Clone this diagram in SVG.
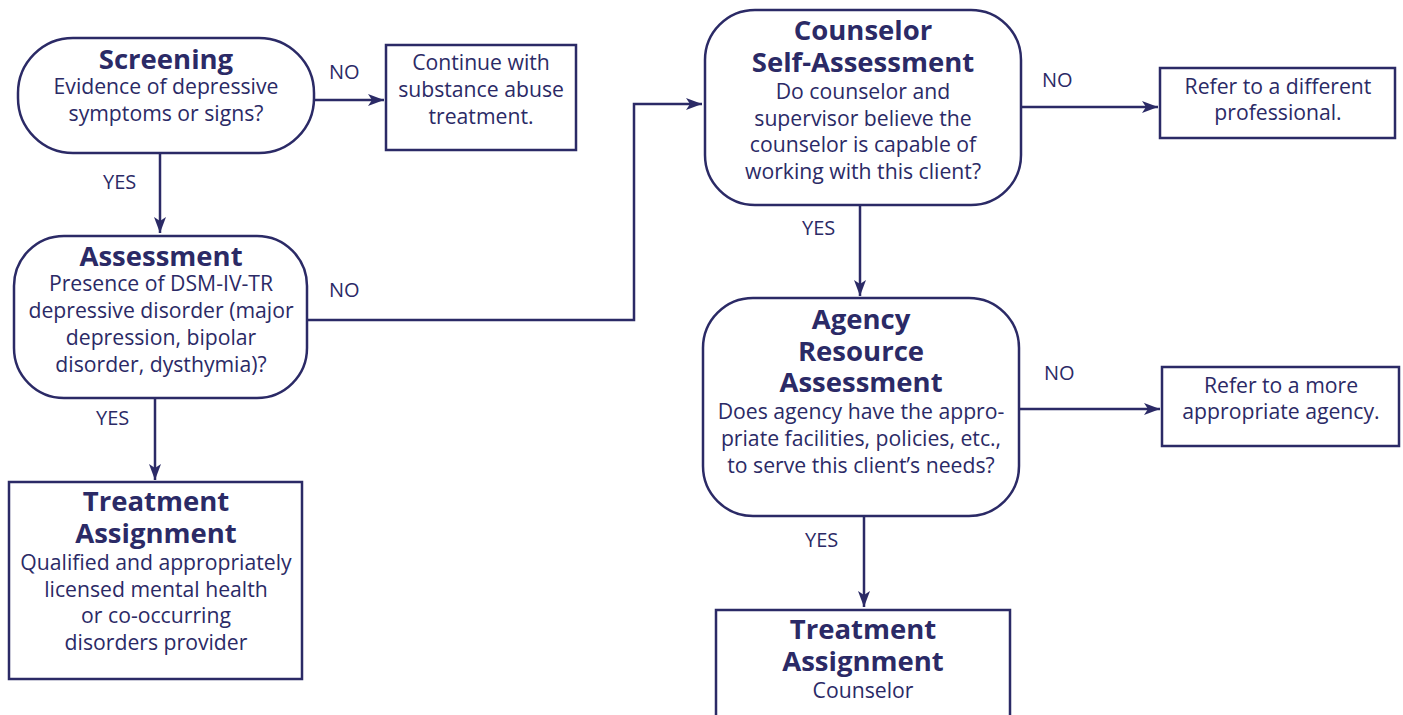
<svg xmlns="http://www.w3.org/2000/svg" width="1403" height="715" viewBox="0 0 1403 715">
<style>
.box{fill:#fff;stroke:#2b2a66;stroke-width:2.5}
.ln{fill:none;stroke:#2b2a66;stroke-width:2.5}
text{font-family:"Open Sans","Noto Sans","Liberation Sans",sans-serif;fill:#2b2a66;text-anchor:middle}
.t{font-size:27.5px;font-weight:700}
.b{font-size:21.2px}
.l{font-size:20px;text-anchor:start}
</style>
<defs>
<marker id="ah" markerUnits="userSpaceOnUse" markerWidth="18" markerHeight="14" refX="16" refY="7" orient="auto">
<path d="M0,1 L16,7 L0,13 L4,7 Z" fill="#2b2a66"/>
</marker>
</defs>
<rect width="1403" height="715" fill="#fff"/>
<g id="connectors">
<line class="ln" x1="314" y1="100" x2="384" y2="100" marker-end="url(#ah)"/>
<line class="ln" x1="160" y1="153" x2="160" y2="233" marker-end="url(#ah)"/>
<polyline class="ln" points="307,320 634,320 634,104 702,104" marker-end="url(#ah)"/>
<line class="ln" x1="155" y1="398" x2="155" y2="480" marker-end="url(#ah)"/>
<line class="ln" x1="1021" y1="107" x2="1158" y2="107" marker-end="url(#ah)"/>
<line class="ln" x1="860" y1="205" x2="860" y2="296" marker-end="url(#ah)"/>
<line class="ln" x1="1019" y1="409" x2="1160" y2="409" marker-end="url(#ah)"/>
<line class="ln" x1="864" y1="516" x2="864" y2="607" marker-end="url(#ah)"/>
<text class="l" x="329" y="79">NO</text>
<text class="l" x="103" y="189">YES</text>
<text class="l" x="329" y="297">NO</text>
<text class="l" x="96" y="425">YES</text>
<text class="l" x="1042" y="87">NO</text>
<text class="l" x="802" y="235">YES</text>
<text class="l" x="1044" y="380">NO</text>
<text class="l" x="805" y="547">YES</text>
</g>
<g id="screening">
<rect class="box" x="18" y="38" width="296" height="115" rx="55"/>
<text class="t" x="166" y="69">Screening</text>
<text class="b" x="166" y="94">Evidence of depressive</text>
<text class="b" x="166" y="121">symptoms or signs?</text>
</g>
<g id="continue">
<rect class="box" x="386" y="45" width="190" height="105"/>
<text class="b" x="481" y="70">Continue with</text>
<text class="b" x="481" y="97">substance abuse</text>
<text class="b" x="481" y="124">treatment.</text>
</g>
<g id="assessment">
<rect class="box" x="14" y="236" width="293" height="162" rx="50"/>
<text class="t" x="161" y="266">Assessment</text>
<text class="b" x="161" y="291">Presence of DSM-IV-TR</text>
<text class="b" x="161" y="318">depressive disorder (major</text>
<text class="b" x="161" y="345">depression, bipolar</text>
<text class="b" x="161" y="372">disorder, dysthymia)?</text>
</g>
<g id="treatment1">
<rect class="box" x="9" y="482" width="293" height="197"/>
<text class="t" x="156" y="511">Treatment</text>
<text class="t" x="156" y="543">Assignment</text>
<text class="b" x="156" y="570">Qualified and appropriately</text>
<text class="b" x="156" y="597">licensed mental health</text>
<text class="b" x="156" y="623">or co-occurring</text>
<text class="b" x="156" y="650">disorders provider</text>
</g>
<g id="counselor">
<rect class="box" x="705" y="10" width="316" height="195" rx="50"/>
<text class="t" x="863" y="40">Counselor</text>
<text class="t" x="863" y="72">Self-Assessment</text>
<text class="b" x="863" y="99">Do counselor and</text>
<text class="b" x="863" y="126">supervisor believe the</text>
<text class="b" x="863" y="152">counselor is capable of</text>
<text class="b" x="863" y="179">working with this client?</text>
</g>
<g id="refer1">
<rect class="box" x="1160" y="68" width="235" height="70"/>
<text class="b" x="1278" y="94">Refer to a different</text>
<text class="b" x="1278" y="120">professional.</text>
</g>
<g id="agency">
<rect class="box" x="703" y="298" width="316" height="218" rx="50"/>
<text class="t" x="861" y="329">Agency</text>
<text class="t" x="861" y="361">Resource</text>
<text class="t" x="861" y="392">Assessment</text>
<text class="b" x="861" y="419">Does agency have the appro-</text>
<text class="b" x="861" y="446">priate facilities, policies, etc.,</text>
<text class="b" x="861" y="473">to serve this client’s needs?</text>
</g>
<g id="refer2">
<rect class="box" x="1162" y="367" width="237" height="79"/>
<text class="b" x="1281" y="393">Refer to a more</text>
<text class="b" x="1281" y="419">appropriate agency.</text>
</g>
<g id="treatment2">
<rect class="box" x="716" y="610" width="294" height="120"/>
<text class="t" x="863" y="639">Treatment</text>
<text class="t" x="863" y="671">Assignment</text>
<text class="b" x="863" y="698">Counselor</text>
</g>
</svg>
